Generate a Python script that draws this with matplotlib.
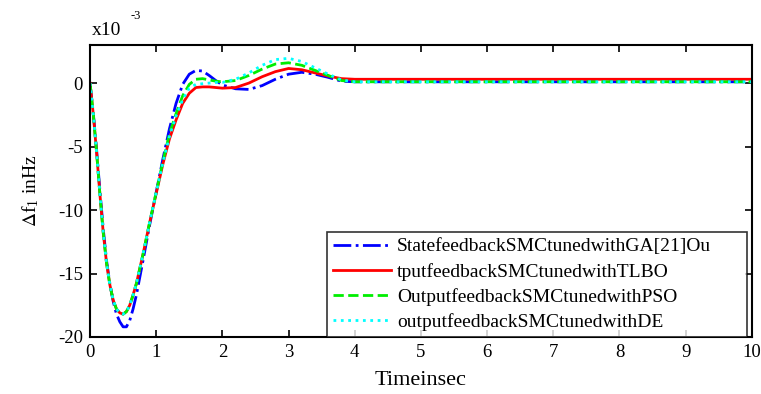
import matplotlib.pyplot as plt
import numpy as np

plt.rcParams["font.family"] = ["Liberation Serif", "DejaVu Serif"]
plt.rcParams["mathtext.fontset"] = "stix"
plt.rcParams["axes.unicode_minus"] = False

# time in sec, frequency deviation in units of 1e-3 Hz
t = [0, 0.05, 0.1, 0.15, 0.2, 0.25, 0.3, 0.35, 0.4, 0.45, 0.5, 0.55, 0.6,
     0.65, 0.7, 0.8, 0.9, 1.0, 1.1, 1.2, 1.3, 1.4, 1.5, 1.6, 1.7, 1.8, 1.9,
     2.0, 2.2, 2.4, 2.6, 2.8, 3.0, 3.2, 3.4, 3.6, 3.8, 4.0, 10]

ga_state = [0, -2.4, -5.3, -8.5, -11.5, -14.0, -15.8, -17.2, -18.2, -18.8,
            -19.2, -19.2, -18.7, -17.8, -16.7, -14.0, -11.2, -8.6, -6.0, -3.6,
            -1.6, -0.1, 0.7, 1.0, 0.95, 0.6, 0.2, -0.15, -0.45, -0.5, -0.2,
            0.3, 0.7, 0.85, 0.7, 0.45, 0.15, 0.1, 0.1]

tlbo = [0, -2.5, -5.5, -8.8, -11.8, -14.2, -15.9, -17.1, -17.8, -18.1,
        -18.2, -18.0, -17.5, -16.7, -15.8, -13.5, -11.0, -8.7, -6.4, -4.4,
        -2.9, -1.6, -0.8, -0.35, -0.3, -0.3, -0.35, -0.4, -0.35, 0.0, 0.5,
        0.9, 1.15, 1.05, 0.8, 0.55, 0.35, 0.3, 0.3]

pso = [0, -2.5, -5.5, -8.8, -11.8, -14.2, -15.9, -17.1, -17.8, -18.1,
       -18.2, -18.0, -17.5, -16.7, -15.8, -13.5, -11.0, -8.6, -6.2, -4.0,
       -2.4, -1.0, -0.1, 0.3, 0.35, 0.25, 0.15, 0.1, 0.2, 0.6, 1.1,
       1.5, 1.6, 1.4, 1.0, 0.6, 0.2, 0.1, 0.1]

de = [0, -2.5, -5.5, -8.8, -11.8, -14.2, -15.9, -17.1, -17.8, -18.1,
      -18.2, -18.0, -17.5, -16.7, -15.8, -13.5, -11.0, -8.6, -6.3, -4.2,
      -2.6, -1.3, -0.4, -0.1, -0.05, 0.0, 0.05, 0.05, 0.3, 0.8, 1.4,
      1.85, 1.95, 1.7, 1.2, 0.7, 0.25, 0.1, 0.1]

labels = ["StatefeedbackSMCtunedwithGA[21]Ou",
          "tputfeedbackSMCtunedwithTLBO",
          "OutputfeedbackSMCtunedwithPSO",
          "outputfeedbackSMCtunedwithDE"]

fig = plt.figure(figsize=(7.61, 3.94), dpi=100)
ax = fig.add_axes([0.1183, 0.1447, 0.8697, 0.7411])

ax.plot(t, ga_state, color="#0000ff", linestyle="-.", linewidth=2, label=labels[0])
ax.plot(t, tlbo, color="#ff0000", linestyle="-", linewidth=2, label=labels[1])
ax.plot(t, pso, color="#00ee00", linestyle="--", linewidth=2, label=labels[2])
ax.plot(t, de, color="#00ffff", linestyle=":", linewidth=2, label=labels[3])

ax.set_xlim(0, 10)
ax.set_ylim(-20, 3)
ax.set_xticks(np.arange(0, 11, 1))
ax.set_yticks([0, -5, -10, -15, -20])
ax.tick_params(axis="both", direction="in", top=True, right=True,
               labelsize=13.5, length=5, width=1.2, pad=5)
for s in ax.spines.values():
    s.set_linewidth(1.5)

ax.set_xlabel("Timeinsec", fontsize=16, labelpad=7)
ax.set_ylabel(r"$\Delta$f$_{\mathregular{1}}$ inHz", fontsize=14, labelpad=12)

fig.text(0.121, 0.902, "x10", fontsize=14, va="bottom")
fig.text(0.172, 0.944, "-3", fontsize=9, va="bottom")

# legend box stretched to a fixed width in the lower right corner
leg = ax.legend(loc="lower left", bbox_to_anchor=(0.358, 0.0, 0.634, 0.36),
                mode="expand", fontsize=14, frameon=True, fancybox=False,
                borderaxespad=0, handlelength=3.0, labelspacing=0.38,
                borderpad=0.3, handletextpad=0.3)
leg.get_frame().set_edgecolor("black")
leg.get_frame().set_linewidth(1.2)

fig.savefig("out.png", dpi=100)
